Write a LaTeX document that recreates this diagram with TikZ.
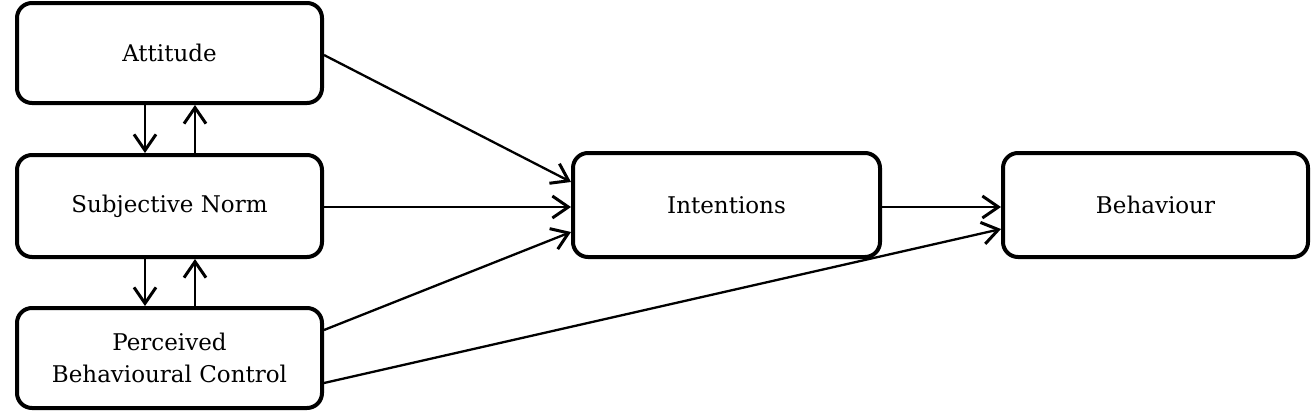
\documentclass[tikz,border=0pt]{standalone}
\usepackage{fontspec}
\setmainfont{DejaVu Serif}
\usetikzlibrary{arrows.meta}
\begin{document}
\begin{tikzpicture}[x=1pt,y=-1pt,
  box/.style={draw, line width=4pt, rounded corners=15pt, align=center,
    font=\fontsize{23}{32}\selectfont, inner sep=0pt},
  conn/.style={line width=2.3pt, -{Straight Barb[length=16pt,width=22pt,line width=3pt]}}]
\useasboundingbox (0,0) rectangle (1314,413);
\node[box, minimum width=305pt, minimum height=100pt] (att) at (169.5,53) {Attitude};
\node[box, minimum width=305pt, minimum height=102pt] (sn) at (169.5,206) {Subjective Norm};
\node[box, minimum width=305pt, minimum height=100pt] (pbc) at (169.5,358) {Perceived\\Behavioural Control};
\node[box, minimum width=307pt, minimum height=104pt] (int) at (726.5,205) {Intentions};
\node[box, minimum width=305pt, minimum height=104pt] (beh) at (1155.5,205) {Behaviour};
\draw[conn] ([xshift=-24.5pt]att.south) -- ([xshift=-24.5pt]sn.north);
\draw[conn] ([xshift=25.5pt]sn.north) -- ([xshift=25.5pt]att.south);
\draw[conn] ([xshift=-24.5pt]sn.south) -- ([xshift=-24.5pt]pbc.north);
\draw[conn] ([xshift=25.5pt]pbc.north) -- ([xshift=25.5pt]sn.south);
\coordinate (a1) at (att.east |- 0,55);
\coordinate (i1) at (int.west |- 0,182);
\draw[conn] (a1) -- (i1);
\draw[conn] (sn.east |- 0,207) -- (int.west |- 0,207);
\draw[conn] (pbc.east |- 0,330) -- (int.west |- 0,232);
\draw[conn] (int.east |- 0,207) -- (beh.west |- 0,207);
\draw[conn] (pbc.east |- 0,383) -- (beh.west |- 0,229);
\end{tikzpicture}
\end{document}
